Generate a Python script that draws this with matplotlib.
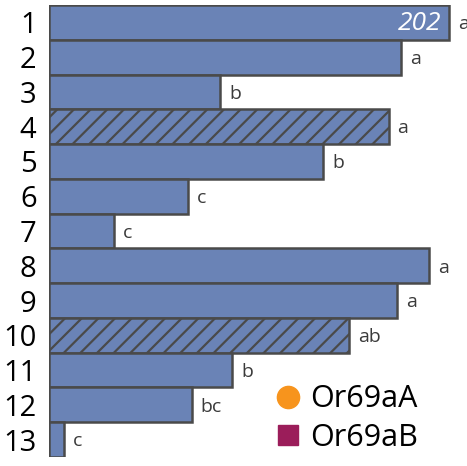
import matplotlib.pyplot as plt
from matplotlib.lines import Line2D

# response per line, with the significance letters
lines = ['1', '2', '3', '4', '5', '6', '7', '8', '9', '10', '11', '12', '13']
values = [202, 178, 86.5, 171.5, 138.5, 70, 33, 192, 176, 151.5, 92.5, 72, 7.5]
letters = ['a', 'a', 'b', 'a', 'b', 'c', 'c', 'a', 'a', 'ab', 'b', 'bc', 'c']
hatched = [False, False, False, True, False, False, False, False, False, True, False, False, False]
legend_labels = ['Or69aA', 'Or69aB']

bar_color = '#6a83b6'
edge_color = '#4a4a4a'
plt.rcParams['font.family'] = ['Open Sans', 'DejaVu Sans']
plt.rcParams['hatch.linewidth'] = 1.6
plt.rcParams['hatch.color'] = edge_color

fig = plt.figure(figsize=(4.67, 4.66), dpi=100)
ax = fig.add_axes([49 / 467, 1 - 457 / 466, 1 - 49 / 467, 452 / 466])

ypos = list(range(1, len(lines) + 1))
bars = ax.barh(ypos, values, height=1.0, color=bar_color, edgecolor=edge_color, linewidth=1.8)
for b, h in zip(bars, hatched):
    if h:
        b.set_hatch('//')

for y, v, lt in zip(ypos, values, letters):
    ax.text(v + 4.5, y + 0.05, lt, ha='left', va='center', fontsize=14, color='#3a3a3a')

ax.text(values[0] - 4, ypos[0] + 0.02, str(values[0]), ha='right', va='center',
        fontsize=19, color='white', style='italic')

ax.set_xlim(0, 418 / 1.98)
ax.set_ylim(len(lines) + 0.5, 0.5)
ax.set_yticks(ypos)
ax.set_yticklabels(lines, fontsize=21)
ax.tick_params(axis='y', length=0, pad=9)
ax.set_xticks([])
for s in ax.spines.values():
    s.set_visible(False)

handles = [
    Line2D([], [], marker='o', linestyle='none', markersize=16, color='#f7941d'),
    Line2D([], [], marker='s', linestyle='none', markersize=15, color='#9b1d5a'),
]
ax.legend(handles, legend_labels, loc='upper left', bbox_to_anchor=(254 / 467, 1 - 369 / 466),
          bbox_transform=fig.transFigure, frameon=False, fontsize=22, borderpad=0,
          handletextpad=0.15, labelspacing=0.28, handlelength=1.2)

fig.savefig('out.png', dpi=100)
